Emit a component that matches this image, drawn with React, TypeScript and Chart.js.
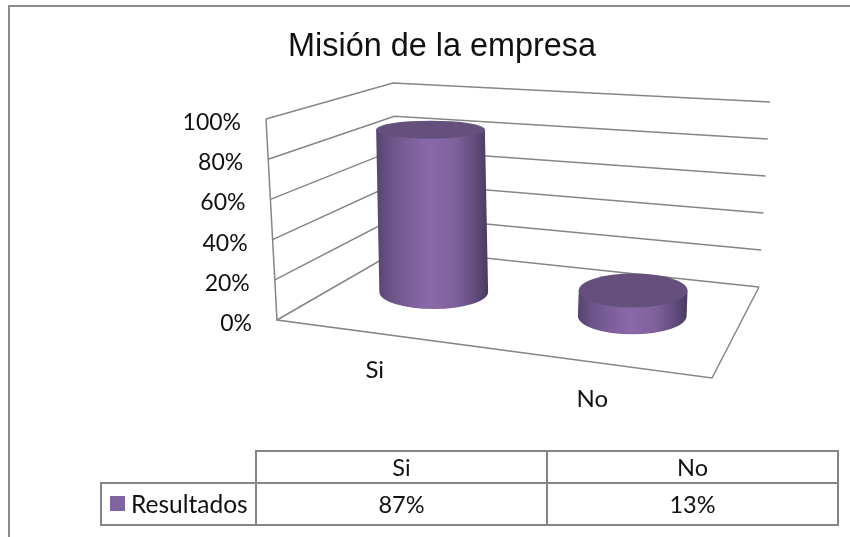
import React, { useEffect, useRef } from "react";
import { Chart, registerables } from "chart.js";

Chart.register(...registerables);

const categories = ["Si", "No"];
const seriesName = "Resultados";
const resultados = [87, 13];
const yTickStep = 20;
const chartTitle = "Misión de la empresa";

const LINE = "#858585";
const TEXT = "#111111";
const BODY_FONT = "Lato, sans-serif";

type Pt = [number, number];
// Projected corners of the 3D box: floor, and the "up" vector of a full-height wall at each corner.
const floorFL: Pt = [277, 320];
const floorBL: Pt = [400, 249];
const floorBR: Pt = [759, 287];
const floorFR: Pt = [712, 378];
const upFL: Pt = [-11, -201];
const upBL: Pt = [-7, -166];
const upBR: Pt = [11, -185];
const upFR: Pt = [13, -222];

const mix = (a: Pt, b: Pt, t: number): Pt => [a[0] + (b[0] - a[0]) * t, a[1] + (b[1] - a[1]) * t];
const project = (u: number, depth: number, v: number): Pt => {
  const floor = mix(mix(floorFL, floorFR, u), mix(floorBL, floorBR, u), depth);
  const up = mix(mix(upFL, upFR, u), mix(upBL, upBR, u), depth);
  return [floor[0] + up[0] * v, floor[1] + up[1] * v];
};
const ellipseRy = (y: number) => 9 + (y - 130) * 0.05;

const scene3d = {
  id: "scene3d",
  afterLayout(chart: any) {
    // Centre the title over the 3D plot, not over the padded chart area.
    const block = chart.titleBlock;
    if (block) {
      block.left = 0;
      block.right = 884;
    }
  },
  beforeDatasetsDraw(chart: any) {
    const { ctx, scales, chartArea } = chart;
    const yScale = scales.y;
    ctx.save();
    // Outer chart frame
    ctx.strokeStyle = "#8c8c8c";
    ctx.lineWidth = 2;
    ctx.beginPath();
    ctx.moveTo(9, 537);
    ctx.lineTo(9, 6);
    ctx.lineTo(850, 6);
    ctx.stroke();

    // Walls and gridlines
    ctx.strokeStyle = LINE;
    ctx.lineWidth = 1.5;
    yScale.ticks.forEach((tick: any) => {
      const py = yScale.getPixelForValue(tick.value);
      const v = (chartArea.bottom - py) / (chartArea.bottom - chartArea.top);
      const a = project(0, 0, v);
      const b = project(0, 1, v);
      const c = project(1, 1, v);
      ctx.beginPath();
      ctx.moveTo(a[0], a[1]);
      ctx.lineTo(b[0], b[1]);
      ctx.lineTo(c[0], c[1]);
      ctx.stroke();
      ctx.fillStyle = TEXT;
      ctx.font = `23px ${BODY_FONT}`;
      ctx.textAlign = "right";
      ctx.textBaseline = "middle";
      ctx.fillText(String(tick.label), a[0] - 25, py + 1.5);
    });
    // Left front edge and floor
    const top = project(0, 0, 1);
    ctx.beginPath();
    ctx.moveTo(top[0], top[1]);
    ctx.lineTo(floorFL[0], floorFL[1]);
    ctx.lineTo(floorFR[0], floorFR[1]);
    ctx.lineTo(floorBR[0], floorBR[1]);
    ctx.stroke();

    // Category labels below the front floor edge
    const xScale = scales.x;
    ctx.fillStyle = TEXT;
    ctx.font = `24px ${BODY_FONT}`;
    ctx.textAlign = "center";
    categories.forEach((name, i) => {
      const u = (xScale.getPixelForValue(i) - chartArea.left) / (chartArea.right - chartArea.left);
      const p = project(u, 0, 0);
      ctx.fillText(name, p[0] - 11, p[1] + 35.5);
    });
    ctx.restore();
  },
  afterDatasetsDraw(chart: any) {
    const { ctx, chartArea } = chart;
    const bars = chart.getDatasetMeta(0).data;
    ctx.save();
    bars.forEach((bar: any) => {
      const u = (bar.x - chartArea.left) / (chartArea.right - chartArea.left);
      const v = (chartArea.bottom - bar.y) / (chartArea.bottom - chartArea.top);
      const rx = bar.width / 2;
      const base = project(u, 0.5, 0);
      const head = project(u, 0.5, v * 0.99);
      const bx = base[0] - 4;
      const by = base[1] - 4.5;
      const tx = head[0] - 4;
      const ty = head[1] - 4.5;
      const g = ctx.createLinearGradient(Math.min(bx, tx) - rx, 0, Math.max(bx, tx) + rx, 0);
      g.addColorStop(0, "#54436f");
      g.addColorStop(0.12, "#6a5486");
      g.addColorStop(0.3, "#7d5f9b");
      g.addColorStop(0.48, "#8a69a9");
      g.addColorStop(0.72, "#7e609b");
      g.addColorStop(0.9, "#5f4a7a");
      g.addColorStop(1, "#49395f");
      ctx.fillStyle = g;
      ctx.beginPath();
      ctx.moveTo(tx - rx, ty);
      ctx.lineTo(bx - rx, by);
      ctx.ellipse(bx, by, rx, ellipseRy(by), 0, Math.PI, 0, true);
      ctx.lineTo(tx + rx, ty);
      ctx.closePath();
      ctx.fill();
      ctx.fillStyle = "#644f7d";
      ctx.beginPath();
      ctx.ellipse(tx, ty, rx, ellipseRy(ty), 0, 0, Math.PI * 2);
      ctx.fill();
    });

    // Data table
    const colX = [101, 256, 547, 838];
    const rowY = [451, 483, 525];
    ctx.strokeStyle = LINE;
    ctx.lineWidth = 2;
    ctx.beginPath();
    ctx.moveTo(colX[1], rowY[2]);
    ctx.lineTo(colX[1], rowY[0]);
    ctx.lineTo(colX[3], rowY[0]);
    ctx.lineTo(colX[3], rowY[2]);
    ctx.lineTo(colX[0], rowY[2]);
    ctx.lineTo(colX[0], rowY[1]);
    ctx.lineTo(colX[3], rowY[1]);
    ctx.moveTo(colX[2], rowY[0]);
    ctx.lineTo(colX[2], rowY[2]);
    ctx.stroke();

    ctx.fillStyle = "#8064a2";
    ctx.fillRect(110, 496, 15, 15);
    ctx.fillStyle = TEXT;
    ctx.font = `24.5px ${BODY_FONT}`;
    ctx.textBaseline = "middle";
    ctx.textAlign = "left";
    ctx.fillText(seriesName, 131, 505);
    ctx.font = `23.5px ${BODY_FONT}`;
    ctx.textAlign = "center";
    categories.forEach((name, i) => {
      const cx = (colX[i + 1] + colX[i + 2]) / 2;
      ctx.fillText(name, cx, 468);
      ctx.fillText(`${resultados[i]}%`, cx, 505);
    });
    ctx.restore();
  },
};

export default function App() {
  const ref = useRef<HTMLCanvasElement | null>(null);
  useEffect(() => {
    document.body.style.margin = "0";
    document.body.style.background = "#ffffff";
    const chart = new Chart(ref.current as HTMLCanvasElement, {
      type: "bar",
      data: {
        labels: categories,
        datasets: [
          {
            label: seriesName,
            data: resultados,
            backgroundColor: "rgba(128,100,162,0)",
            borderWidth: 0,
            barPercentage: 0.5,
            categoryPercentage: 1,
          },
        ],
      },
      options: {
        responsive: false,
        animation: false,
        layout: { padding: { left: 277, right: 138, top: 28, bottom: 215 } },
        plugins: {
          legend: { display: false },
          tooltip: { enabled: false },
          title: {
            display: true,
            text: chartTitle,
            color: "#111111",
            font: { family: "'Liberation Sans', Arial, sans-serif", size: 32.4, weight: "normal", lineHeight: 1.2 },
            padding: { top: 0, bottom: 54.1 },
          },
        },
        scales: {
          x: {
            display: true,
            grid: { display: false, drawTicks: false },
            border: { display: false },
            ticks: { display: false },
          },
          y: {
            display: true,
            min: 0,
            max: 100,
            grid: { display: false, drawTicks: false },
            border: { display: false },
            ticks: { display: false, stepSize: yTickStep, callback: (value: any) => `${value}%` },
          },
        },
      },
      plugins: [scene3d],
    } as any);
    return () => chart.destroy();
  }, []);
  return <canvas ref={ref} width={850} height={537} style={{ display: "block" }} />;
}
